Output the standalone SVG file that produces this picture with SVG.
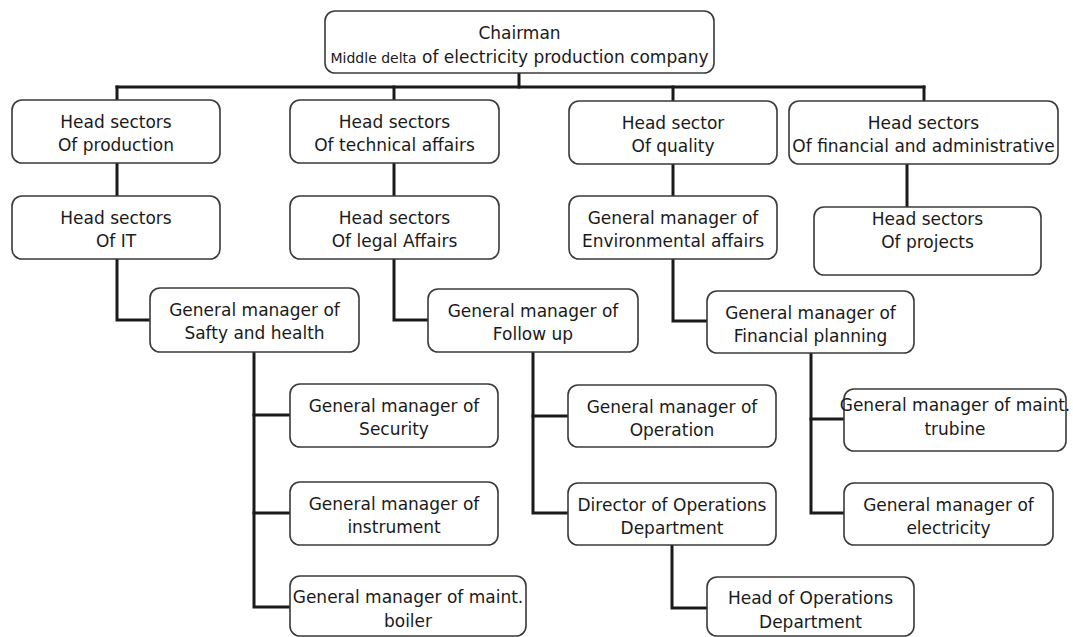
<svg xmlns="http://www.w3.org/2000/svg" width="1073" height="637" viewBox="0 0 1073 637">
  <style>
    .box { fill: #ffffff; stroke: #3a3a3a; stroke-width: 1.6; }
    .t { font-family: "DejaVu Sans", "Liberation Sans", sans-serif; font-size: 17px; fill: #1a1a1a; text-anchor: middle; }
    .small { font-size: 14px; }
    .conn { fill: none; stroke: #1a1a1a; stroke-width: 3; stroke-linejoin: miter; stroke-linecap: square; }
  </style>
  <rect width="1073" height="637" fill="#ffffff"/>

  <g id="connectors" class="conn">
    <path d="M519 73 V87"/>
    <path d="M117 87 H924"/>
    <path d="M117 87 V100"/>
    <path d="M394 87 V100"/>
    <path d="M673 87 V101"/>
    <path d="M924 87 V101"/>
    <path d="M117 163 V196"/>
    <path d="M394 163 V196"/>
    <path d="M673 164 V196"/>
    <path d="M907 164 V207"/>
    <path d="M117 259 V320 H150"/>
    <path d="M394 259 V320 H428"/>
    <path d="M673 259 V321 H707"/>
    <path d="M254 352 V607 H290"/>
    <path d="M254 415 H290"/>
    <path d="M254 513 H290"/>
    <path d="M533 352 V513 H568"/>
    <path d="M533 416 H568"/>
    <path d="M672 545 V608 H707"/>
    <path d="M811 353 V513 H844"/>
    <path d="M811 419 H844"/>
  </g>

  <g id="chairman">
    <rect class="box" x="325" y="11" width="389" height="62" rx="10"/>
    <text class="t" x="519.5" y="39">Chairman</text>
    <text class="t" x="519.5" y="63"><tspan class="small">Middle delta</tspan> of electricity production company</text>
  </g>

  <g id="production">
    <rect class="box" x="12" y="100" width="208" height="63" rx="10"/>
    <text class="t" x="116" y="128">Head sectors</text>
    <text class="t" x="116" y="151">Of production</text>
  </g>

  <g id="technical">
    <rect class="box" x="290" y="100" width="209" height="63" rx="10"/>
    <text class="t" x="394.5" y="128">Head sectors</text>
    <text class="t" x="394.5" y="151">Of technical affairs</text>
  </g>

  <g id="quality">
    <rect class="box" x="569" y="101" width="208" height="63" rx="10"/>
    <text class="t" x="673" y="129">Head sector</text>
    <text class="t" x="673" y="152">Of quality</text>
  </g>

  <g id="financial">
    <rect class="box" x="789" y="101" width="269" height="63" rx="10"/>
    <text class="t" x="923.5" y="129">Head sectors</text>
    <text class="t" x="923.5" y="152">Of financial and administrative</text>
  </g>

  <g id="it">
    <rect class="box" x="12" y="196" width="208" height="63" rx="10"/>
    <text class="t" x="116" y="224">Head sectors</text>
    <text class="t" x="116" y="247">Of IT</text>
  </g>

  <g id="legal">
    <rect class="box" x="290" y="196" width="209" height="63" rx="10"/>
    <text class="t" x="394.5" y="224">Head sectors</text>
    <text class="t" x="394.5" y="247">Of legal Affairs</text>
  </g>

  <g id="environmental">
    <rect class="box" x="569" y="196" width="208" height="63" rx="10"/>
    <text class="t" x="673" y="224">General manager of</text>
    <text class="t" x="673" y="247">Environmental affairs</text>
  </g>

  <g id="projects">
    <rect class="box" x="814" y="207" width="227" height="68" rx="10"/>
    <text class="t" x="927.5" y="225">Head sectors</text>
    <text class="t" x="927.5" y="248">Of projects</text>
  </g>

  <g id="safety">
    <rect class="box" x="150" y="288" width="209" height="64" rx="10"/>
    <text class="t" x="254.5" y="316">General manager of</text>
    <text class="t" x="254.5" y="339">Safty and health</text>
  </g>

  <g id="followup">
    <rect class="box" x="428" y="289" width="210" height="63" rx="10"/>
    <text class="t" x="533" y="317">General manager of</text>
    <text class="t" x="533" y="340">Follow up</text>
  </g>

  <g id="financial-planning">
    <rect class="box" x="707" y="291" width="207" height="62" rx="10"/>
    <text class="t" x="810.5" y="319">General manager of</text>
    <text class="t" x="810.5" y="342">Financial planning</text>
  </g>

  <g id="security">
    <rect class="box" x="290" y="384" width="208" height="63" rx="10"/>
    <text class="t" x="394" y="412">General manager of</text>
    <text class="t" x="394" y="435">Security</text>
  </g>

  <g id="operation">
    <rect class="box" x="568" y="385" width="208" height="62" rx="10"/>
    <text class="t" x="672" y="413">General manager of</text>
    <text class="t" x="672" y="436">Operation</text>
  </g>

  <g id="turbine">
    <rect class="box" x="844" y="389" width="222" height="62" rx="10"/>
    <text class="t" x="955" y="411">General manager of maint.</text>
    <text class="t" x="955" y="435">trubine</text>
  </g>

  <g id="instrument">
    <rect class="box" x="290" y="482" width="208" height="63" rx="10"/>
    <text class="t" x="394" y="510">General manager of</text>
    <text class="t" x="394" y="533">instrument</text>
  </g>

  <g id="director-operations">
    <rect class="box" x="568" y="483" width="208" height="62" rx="10"/>
    <text class="t" x="672" y="511">Director of Operations</text>
    <text class="t" x="672" y="534">Department</text>
  </g>

  <g id="electricity">
    <rect class="box" x="844" y="483" width="209" height="62" rx="10"/>
    <text class="t" x="948.5" y="511">General manager of</text>
    <text class="t" x="948.5" y="534">electricity</text>
  </g>

  <g id="boiler">
    <rect class="box" x="290" y="576" width="236" height="60" rx="10"/>
    <text class="t" x="408" y="603">General manager of maint.</text>
    <text class="t" x="408" y="627">boiler</text>
  </g>

  <g id="head-operations">
    <rect class="box" x="707" y="577" width="207" height="59" rx="10"/>
    <text class="t" x="810.5" y="604">Head of Operations</text>
    <text class="t" x="810.5" y="628">Department</text>
  </g>
</svg>
